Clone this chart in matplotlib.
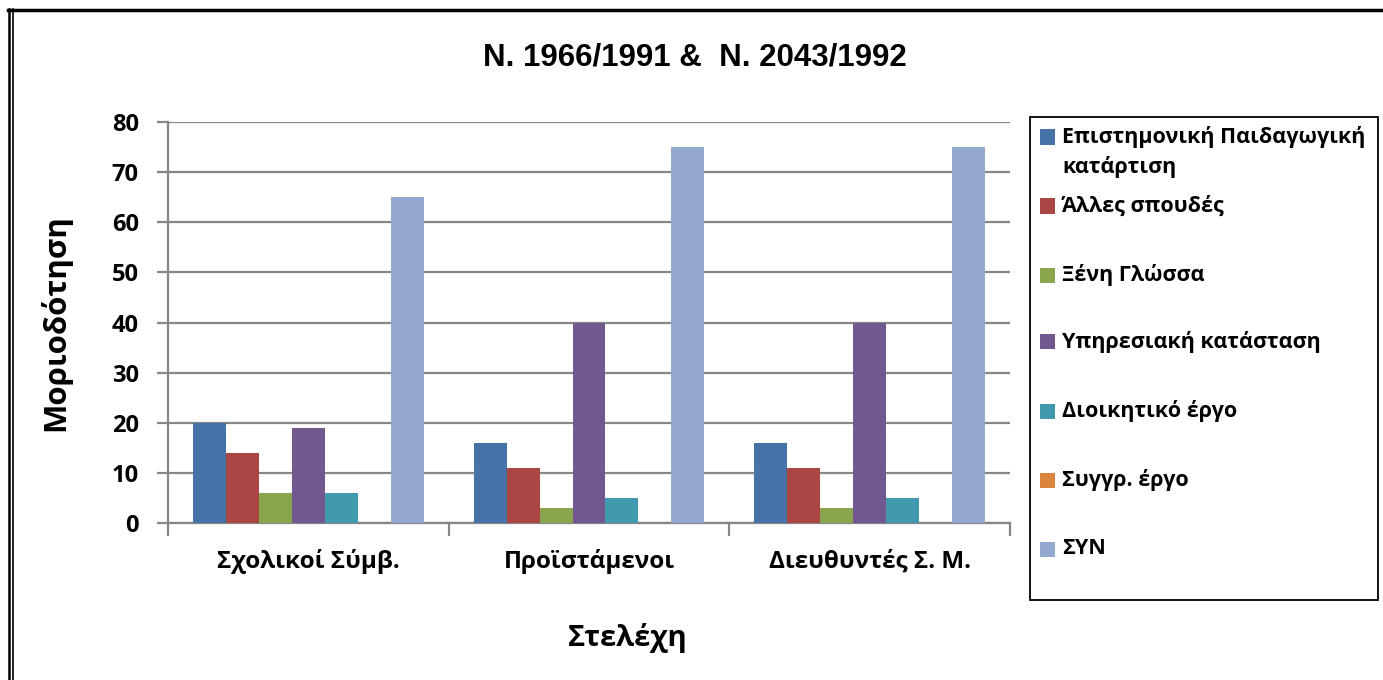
import matplotlib
matplotlib.use("Agg")
import matplotlib.pyplot as plt
import numpy as np
from matplotlib.patches import Rectangle
from matplotlib.lines import Line2D

plt.rcParams['font.family'] = ['Open Sans', 'DejaVu Sans']

# Data
categories = ["Σχολικοί Σύμβ.", "Προϊστάμενοι", "Διευθυντές Σ. Μ."]
series_names = ["Επιστημονική Παιδαγωγική\nκατάρτιση", "Άλλες σπουδές", "Ξένη Γλώσσα",
                "Υπηρεσιακή κατάσταση", "Διοικητικό έργο", "Συγγρ. έργο", "ΣΥΝ"]
values = [
    [20, 16, 16],   # Επιστημονική Παιδαγωγική κατάρτιση
    [14, 11, 11],   # Άλλες σπουδές
    [6, 3, 3],      # Ξένη Γλώσσα
    [19, 40, 40],   # Υπηρεσιακή κατάσταση
    [6, 5, 5],      # Διοικητικό έργο
    [0, 0, 0],      # Συγγρ. έργο
    [65, 75, 75],   # ΣΥΝ
]
colors = ["#4572A7", "#AA4643", "#89A54E", "#71588F", "#4198AF", "#DB843D", "#93A9CF"]
yticks = [0, 10, 20, 30, 40, 50, 60, 70, 80]

W, H = 1383, 680
fig = plt.figure(figsize=(W / 100, H / 100), dpi=100)
ax = fig.add_axes([168 / W, 1 - 523 / H, (1010 - 168) / W, (523 - 122) / H])

grid_c = "#868686"
x = np.arange(len(categories))
bw = 0.1174
n = len(series_names)
for i, (vals, c) in enumerate(zip(values, colors)):
    ax.bar(x + (i - (n - 1) / 2) * bw, vals, width=bw, color=c, zorder=3, linewidth=0)

ax.set_xlim(-0.5, len(categories) - 0.5)
ax.set_ylim(0, 80)
ax.set_yticks(yticks)
ax.set_yticklabels([str(t) for t in yticks], fontsize=17, fontweight='bold')
ax.yaxis.grid(True, color=grid_c, linewidth=1.6, zorder=0)
ax.set_axisbelow(True)

# category labels between boundary ticks
ax.set_xticks(x)
ax.set_xticklabels(categories, fontsize=17.5, fontweight='bold')
ax.tick_params(axis='x', length=0, pad=19)
ax.set_xticks(np.arange(len(categories) + 1) - 0.5, minor=True)
ax.tick_params(axis='x', which='minor', length=9, width=1.6, color=grid_c)
ax.tick_params(axis='y', length=8, width=1.6, color=grid_c, pad=13)

for s in ['top', 'right']:
    ax.spines[s].set_visible(False)
for s in ['left', 'bottom']:
    ax.spines[s].set_color(grid_c)
    ax.spines[s].set_linewidth(1.6)

fig.text(695 / W, 1 - 57 / H, "N. 1966/1991 &  N. 2043/1992", ha='center', va='center',
         fontsize=22.5, fontweight='bold', family=['Liberation Sans', 'DejaVu Sans'])
fig.text(55 / W, 1 - 323 / H, "Μοριοδότηση", rotation=90, ha='center', va='center',
         fontsize=22.5, fontweight='bold')
fig.text(628 / W, 1 - 638 / H, "Στελέχη", ha='center', va='center',
         fontsize=21, fontweight='bold')

# legend box
fig.add_artist(Rectangle((1030 / W, 1 - 600 / H), (1378 - 1030) / W, (600 - 117) / H,
                         transform=fig.transFigure, fill=False, edgecolor='black', linewidth=1.3))
row_y = [137, 206, 275, 342, 411, 480, 549]
leg_fs = 15.5
for name, c, yy in zip(series_names, colors, row_y):
    fig.add_artist(Rectangle((1040 / W, 1 - (yy + 7.5) / H), 15 / W, 15 / H,
                             transform=fig.transFigure, facecolor=c, edgecolor='none'))
    lines = name.split('\n')
    for k, line in enumerate(lines):
        fig.text(1062 / W, 1 - (yy + 30 * k) / H, line, ha='left', va='center',
                 fontsize=leg_fs, fontweight='bold')

# outer frame: double line on the left, single line on top
for xx in (9, 13):
    fig.add_artist(Line2D([xx / W, xx / W], [0, 1 - 9 / H], transform=fig.transFigure,
                          color='black', linewidth=1.8 if xx == 9 else 1.2))
fig.add_artist(Line2D([8 / W, 1], [1 - 10 / H, 1 - 10 / H], transform=fig.transFigure,
                      color='black', linewidth=2.5))

fig.savefig("out.png", dpi=100)
